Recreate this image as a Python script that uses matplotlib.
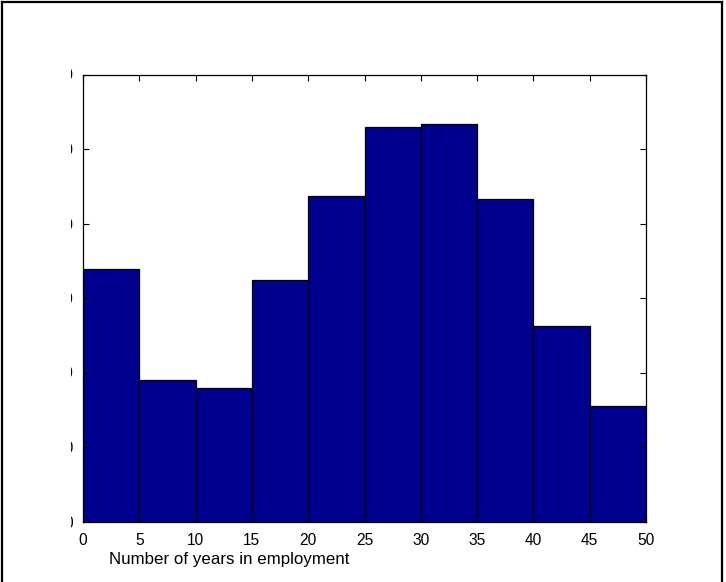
import matplotlib
matplotlib.use("Agg")
import matplotlib.pyplot as plt
from matplotlib.lines import Line2D
from matplotlib.transforms import Bbox

# Data
bin_edges = [0, 5, 10, 15, 20, 25, 30, 35, 40, 45, 50]
counts = [169.7, 94.8, 89.6, 161.9, 218.3, 265.0, 266.8, 216.6, 131.0, 77.3]
x_ticks = [0, 5, 10, 15, 20, 25, 30, 35, 40, 45, 50]
y_ticks = [0, 50, 100, 150, 200, 250, 300]
x_label = "Number of years in employment"

W, H = 726, 582
fig = plt.figure(figsize=(W / 100, H / 100), dpi=100)
plt.rcParams['font.family'] = ['Liberation Sans', 'DejaVu Sans']

ax = fig.add_axes([83 / W, (H - 521.5) / H, (646 - 83) / W, (521.5 - 74.5) / H])
ax.bar(bin_edges[:-1], counts, width=5, align='edge', color='#00008F',
       edgecolor='black', linewidth=0.9)
ax.set_xlim(0, 50)
ax.set_ylim(0, 300)
ax.set_xticks(x_ticks)
ax.set_xticklabels([str(v) for v in x_ticks])
ax.set_yticks(y_ticks)
ax.set_yticklabels([str(v) for v in y_ticks])
ax.tick_params(direction='in', length=4, width=0.8, top=True, right=True,
               labelsize=11.2, colors='black')
ax.tick_params(axis='x', pad=8)
ax.tick_params(axis='y', pad=7)
for s in ax.spines.values():
    s.set_linewidth(0.9)
    s.set_color('black')

fig.text(109 / W, 18 / H, x_label, ha='left', va='baseline', fontsize=12.2)

# figure border (left, top, right)
lw = 1.6
fig.add_artist(Line2D([1.5 / W, 1.5 / W], [0, 1 - 1.5 / H], transform=fig.transFigure,
                      color='black', linewidth=lw))
fig.add_artist(Line2D([1.5 / W, 722 / W], [1 - 1.5 / H, 1 - 1.5 / H], transform=fig.transFigure,
                      color='black', linewidth=lw))
fig.add_artist(Line2D([722 / W, 722 / W], [0, 1 - 1.5 / H], transform=fig.transFigure,
                      color='black', linewidth=lw))

fig.canvas.draw()
clip = Bbox([[70.5, 0], [100, H]])
for lab in ax.get_yticklabels():
    lab.set_clip_box(clip)
    lab.set_clip_on(True)

fig.savefig("out.png", dpi=100)
